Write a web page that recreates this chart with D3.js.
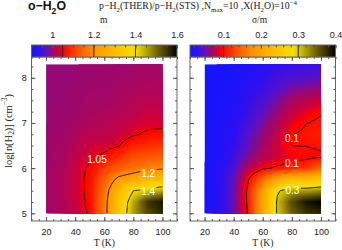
<!DOCTYPE html>
<html><head><meta charset="utf-8">
<script src="https://cdn.jsdelivr.net/npm/d3@7/dist/d3.min.js"></script>
<style>
html,body{margin:0;padding:0;background:#fff;}
svg{display:block;}
</style></head><body>
<svg id="chart" width="342" height="250"></svg>
<script>
// ---------------- data ----------------
const temps = [20, 30, 40, 50, 60, 70, 80, 90, 100];            // T (K)
const logn  = [5.0, 5.25, 5.5, 5.75, 6.0, 6.25, 6.5, 6.75, 7.0, 7.25, 7.5, 7.75, 8.0, 8.25, 8.5]; // log n(H2)

// m = p-H2(THER)/p-H2(STS), one array per temperature, values along logn
const mRatio = [
  [1.002,1.003,1.003,1.003,1.002,1.000,1.000,0.999,0.998,0.998,0.997,0.997,0.996,0.996,0.996], // 20 K
  [1.008,1.010,1.011,1.011,1.009,1.006,1.004,1.002,1.000,0.999,0.998,0.998,0.997,0.997,0.997], // 30 K
  [1.025,1.028,1.030,1.030,1.028,1.022,1.015,1.010,1.005,1.002,1.000,0.999,0.998,0.998,0.998], // 40 K
  [1.056,1.060,1.064,1.064,1.058,1.042,1.030,1.020,1.012,1.008,1.005,1.002,1.000,0.999,0.999], // 50 K
  [1.170,1.170,1.160,1.140,1.100,1.060,1.035,1.020,1.015,1.010,1.005,1.003,1.001,1.000,1.000], // 60 K
  [1.330,1.320,1.290,1.220,1.140,1.090,1.048,1.030,1.020,1.015,1.010,1.006,1.003,1.001,1.000], // 70 K
  [1.460,1.450,1.400,1.250,1.160,1.120,1.080,1.045,1.030,1.020,1.015,1.010,1.005,1.002,1.001], // 80 K
  [1.530,1.550,1.420,1.290,1.180,1.130,1.090,1.058,1.038,1.028,1.020,1.012,1.007,1.004,1.003], // 90 K
  [1.560,1.580,1.450,1.310,1.190,1.140,1.100,1.065,1.035,1.028,1.020,1.013,1.008,1.005,1.004]  // 100 K
];
// sigma/m, one array per temperature, values along logn
const sigmaM = [
  [0.012,0.012,0.012,0.012,0.012,0.011,0.011,0.011,0.011,0.011,0.010,0.010,0.010,0.010,0.010], // 20 K
  [0.025,0.025,0.025,0.024,0.022,0.020,0.018,0.017,0.016,0.015,0.014,0.013,0.012,0.012,0.011], // 30 K
  [0.050,0.050,0.050,0.048,0.042,0.036,0.031,0.027,0.024,0.021,0.019,0.017,0.015,0.014,0.013], // 40 K
  [0.104,0.106,0.107,0.098,0.075,0.058,0.050,0.045,0.040,0.035,0.030,0.026,0.022,0.019,0.017], // 50 K
  [0.200,0.200,0.190,0.150,0.095,0.075,0.068,0.062,0.055,0.048,0.041,0.035,0.029,0.024,0.020], // 60 K
  [0.305,0.305,0.295,0.200,0.104,0.085,0.085,0.080,0.072,0.063,0.055,0.045,0.037,0.030,0.026], // 70 K
  [0.350,0.360,0.320,0.230,0.110,0.092,0.1002,0.0994,0.090,0.080,0.070,0.056,0.042,0.034,0.029], // 80 K
  [0.370,0.390,0.320,0.230,0.120,0.094,0.1005,0.104,0.0995,0.090,0.076,0.060,0.045,0.035,0.030], // 90 K
  [0.380,0.400,0.330,0.240,0.150,0.097,0.103,0.108,0.104,0.098,0.082,0.064,0.048,0.037,0.032]  // 100 K
];
const tExtent = [20, 100];
const lExtent = [5, 8.3];

const mLevels = [1.05, 1.2, 1.4];
const sLevels = [0.1, 0.3];
const mLabels = [{text:"1.05", T:55, L:6.19}, {text:"1.2", T:90.2, L:5.88}, {text:"1.4", T:90.2, L:5.48}];
const sLabels = [{text:"0.1", T:80, L:6.66}, {text:"0.1", T:80, L:6.11}, {text:"0.3", T:80.4, L:5.5}];

const mBarDomain = [0.9, 1.6];
const sBarDomain = [0.01, 0.4];
const mBarTicks = [1, 1.2, 1.4, 1.6];
const sBarTicks = [0.1, 0.2, 0.3, 0.4];
const mBarMinor = d3.range(0.9, 1.601, 0.05);
const sBarMinor = d3.range(0.02, 0.401, 0.02);

const xTicks = [20, 40, 60, 80, 100];
const xMinor = d3.range(10, 111, 5);
const yTicks = [5, 6, 7, 8];
const yMinor = d3.range(5, 8.46, 0.25);

const cmapStops  = [0, 0.05, 0.10, 0.14, 0.20, 0.215, 0.31, 0.43, 0.57, 0.71, 0.76, 0.87, 1.0];
const cmapColors = ["#1414ff","#3010f0","#6010c0","#9a0870","#d80030","#ff0000","#ff4a00","#ff9400","#ffbc00","#f6e000","#cfc000","#6e6000","#000000"];

// ---------------- setup ----------------
const svg = d3.select("#chart");
const defs = svg.append("defs");
const SANS = "'Liberation Sans', Arial, sans-serif";
const SERIF = "'Liberation Serif', 'Times New Roman', serif";
const frameTop = 57, frameBot = 221, barTop = 45;
const cmap = d3.scaleLinear().domain(cmapStops).range(cmapColors).interpolate(d3.interpolateRgb).clamp(true);

// sampling of the field for rendering
const T0 = 18, dT = 0.5, nx = 169, L0 = 4.95, dL = 0.025, ny = 137;
function bilinear(grid, t, l) {
  const nT = temps.length, nL = logn.length;
  let fx = (t - temps[0]) / (temps[1] - temps[0]); fx = Math.max(0, Math.min(nT - 1, fx));
  let fy = (l - logn[0]) / (logn[1] - logn[0]); fy = Math.max(0, Math.min(nL - 1, fy));
  const i = Math.min(Math.floor(fx), nT - 2), j = Math.min(Math.floor(fy), nL - 2);
  const u = fx - i, v = fy - j;
  return (1-u)*(1-v)*grid[i][j] + u*(1-v)*grid[i+1][j] + (1-u)*v*grid[i][j+1] + u*v*grid[i+1][j+1];
}

function rich(sel, parts, fs) {
  sel.selectAll("tspan").remove();
  let cur = 0;
  parts.forEach(([s, t]) => {
    const target = t === "sub" ? fs*0.3 : t === "sup" ? -fs*0.42 : 0;
    const ts = sel.append("tspan").text(s).attr("dy", target - cur);
    ts.attr("font-size", t ? fs*0.7 : fs);
    cur = target;
  });
}
function fitText(sel, parts, fs, width) {
  sel.attr("font-size", fs); rich(sel, parts, fs);
  const w = sel.node().getComputedTextLength();
  if (width && w > 0) { const f = fs * width / w; sel.attr("font-size", f); rich(sel, parts, f); }
}

const panels = [
  {x0:31.5, x1:177, grid:mRatio, bar:mBarDomain, levels:mLevels, labels:mLabels, btick:mBarTicks, bminor:mBarMinor, ylab:true},
  {x0:190, x1:335.5, grid:sigmaM, bar:sBarDomain, levels:sLevels, labels:sLabels, btick:sBarTicks, bminor:sBarMinor, ylab:false}
];

const yS = d3.scaleLinear().domain([4.83, 8.46]).range([frameBot, frameTop]);

function styleAxis(g) {
  g.select(".domain").remove();
  g.selectAll("line").attr("stroke", "#555").attr("stroke-width", 1);
  g.attr("font-family", SANS).attr("font-size", 9);
  g.selectAll("text").attr("fill", "#222");
  return g;
}

panels.forEach((p, k) => {
  const xS = d3.scaleLinear().domain([10, 110]).range([p.x0, p.x1]);
  const cS = d3.scaleLinear().domain(p.bar).range([p.x0, p.x1]);
  const colorOf = v => cmap((v - p.bar[0]) / (p.bar[1] - p.bar[0]));

  // field
  const values = new Float64Array(nx * ny);
  for (let j = 0; j < ny; j++) for (let i = 0; i < nx; i++)
    values[j*nx + i] = bilinear(p.grid, T0 + i*dT, L0 + j*dL);
  const vmin = d3.min(values), vmax = d3.max(values);

  const proj = d3.geoTransform({point(x, y) {
    this.stream.point(xS(T0 + (x - 0.5)*dT), yS(L0 + (y - 0.5)*dL));
  }});
  const path = d3.geoPath(proj);
  const gen = d3.contours().size([nx, ny]);

  const rx = xS(tExtent[0]), rw = xS(tExtent[1]) - rx, ry = yS(lExtent[1]), rh = yS(lExtent[0]) - ry;
  defs.append("clipPath").attr("id", "clip" + k).append("rect")
    .attr("x", rx).attr("y", ry).attr("width", rw).attr("height", rh);

  const fg = svg.append("g").attr("clip-path", `url(#clip${k})`);
  fg.append("rect").attr("x", rx).attr("y", ry).attr("width", rw).attr("height", rh).attr("fill", colorOf(vmin));
  const N = 260, step = (vmax - vmin) / N;
  for (let i = 1; i < N; i++) {
    const t = vmin + i*step;
    fg.append("path").attr("d", path(gen.contour(values, t))).attr("fill", colorOf(t + step/2));
  }

  // contour labels + mask
  const mask = defs.append("mask").attr("id", "mask" + k).attr("maskUnits", "userSpaceOnUse")
    .attr("x", 0).attr("y", 0).attr("width", 342).attr("height", 250);
  mask.append("rect").attr("width", 342).attr("height", 250).attr("fill", "white");

  const lg = svg.append("g").attr("clip-path", `url(#clip${k})`).attr("mask", `url(#mask${k})`);
  p.levels.forEach(lv => {
    lg.append("path").attr("d", path(gen.contour(values, lv)))
      .attr("fill", "none").attr("stroke", "#000").attr("stroke-width", 0.9);
  });
  const tg = svg.append("g");
  p.labels.forEach(lb => {
    const t = tg.append("text").attr("x", xS(lb.T)).attr("y", yS(lb.L))
      .attr("text-anchor", "middle").attr("dominant-baseline", "central")
      .attr("font-family", SANS).attr("font-size", 10).attr("fill", "#fff").text(lb.text);
    const b = t.node().getBBox();
    mask.append("rect").attr("x", b.x - 1).attr("y", b.y + 1).attr("width", b.width + 2).attr("height", b.height - 2).attr("fill", "black");
  });

  // frame
  svg.append("rect").attr("x", p.x0).attr("y", frameTop).attr("width", p.x1 - p.x0).attr("height", frameBot - frameTop)
    .attr("fill", "none").attr("stroke", "#666").attr("stroke-width", 1);

  // axes (inward ticks)
  styleAxis(svg.append("g").attr("transform", `translate(0,${frameBot})`)
    .call(d3.axisBottom(xS).tickValues(xMinor).tickSize(-2).tickFormat("")));
  styleAxis(svg.append("g").attr("transform", `translate(0,${frameBot})`)
    .call(d3.axisBottom(xS).tickValues(xTicks).tickSize(-4).tickPadding(7.5).tickFormat(d3.format("d"))));
  styleAxis(svg.append("g").attr("transform", `translate(0,${frameTop})`)
    .call(d3.axisTop(xS).tickValues(xMinor).tickSize(-2).tickFormat("")));
  styleAxis(svg.append("g").attr("transform", `translate(0,${frameTop})`)
    .call(d3.axisTop(xS).tickValues(xTicks).tickSize(-4).tickFormat("")));
  styleAxis(svg.append("g").attr("transform", `translate(${p.x0},0)`)
    .call(d3.axisLeft(yS).tickValues(yMinor).tickSize(-2).tickFormat("")));
  styleAxis(svg.append("g").attr("transform", `translate(${p.x0},0)`)
    .call(d3.axisLeft(yS).tickValues(yTicks).tickSize(-4).tickPadding(4.7).tickFormat(p.ylab ? d3.format("d") : "")));
  styleAxis(svg.append("g").attr("transform", `translate(${p.x1},0)`)
    .call(d3.axisRight(yS).tickValues(yMinor).tickSize(-2).tickFormat("")));
  styleAxis(svg.append("g").attr("transform", `translate(${p.x1},0)`)
    .call(d3.axisRight(yS).tickValues(yTicks).tickSize(-4).tickFormat("")));

  // colour bar
  const grad = defs.append("linearGradient").attr("id", "grad" + k);
  d3.range(0, 1.0001, 0.01).forEach(f => grad.append("stop").attr("offset", f).attr("stop-color", cmap(f)));
  svg.append("rect").attr("x", p.x0).attr("y", barTop).attr("width", p.x1 - p.x0).attr("height", frameTop - barTop)
    .attr("fill", `url(#grad${k})`).attr("stroke", "#666").attr("stroke-width", 1);
  p.levels.forEach(lv => {
    svg.append("line").attr("x1", cS(lv)).attr("x2", cS(lv)).attr("y1", barTop).attr("y2", frameTop)
      .attr("stroke", "#222").attr("stroke-width", 1);
  });
  styleAxis(svg.append("g").attr("transform", `translate(0,${barTop})`)
    .call(d3.axisTop(cS).tickValues(p.bminor).tickSize(-2.5).tickFormat("")));
  styleAxis(svg.append("g").attr("transform", `translate(0,${barTop})`)
    .call(d3.axisTop(cS).tickValues(p.btick).tickSize(-3.5).tickPadding(6.7).tickFormat(d => String(d))));

  // x-axis title
  svg.append("text").attr("x", (p.x0 + p.x1)/2).attr("y", 246).attr("text-anchor", "middle")
    .attr("font-family", SERIF).attr("font-size", 9.5).attr("fill", "#222").text("T (K)");
});

// titles
fitText(svg.append("text").attr("x", 28).attr("y", 10).attr("font-family", SANS).attr("font-weight", "bold").attr("fill", "#111"),
  [["o\u2212H", null], ["2", "sub"], ["O", null]], 11, 38);
fitText(svg.append("text").attr("x", 99).attr("y", 9).attr("font-family", SERIF).attr("fill", "#222"),
  [["p\u2212H", null], ["2", "sub"], ["(THER)/p\u2212H", null], ["2", "sub"], ["(STS) ,N", null], ["max", "sub"],
   ["=10 ,X(H", null], ["2", "sub"], ["O)=10", null], ["\u22124", "sup"]], 8, 198);
svg.append("text").attr("x", 100).attr("y", 23).attr("font-family", SERIF).attr("font-size", 9.5).attr("fill", "#222").text("m");
svg.append("text").attr("x", 252).attr("y", 23).attr("font-family", SERIF).attr("font-size", 9.5).attr("fill", "#222").text("\u03c3/m");

// y-axis title
const yt = svg.append("text").attr("transform", "translate(8,131) rotate(-90)").attr("text-anchor", "middle")
  .attr("dominant-baseline", "central").attr("font-family", SERIF).attr("fill", "#222");
fitText(yt, [["log[n(H", null], ["2", "sub"], [")] (cm", null], ["\u22123", "sup"], [")", null]], 9, 74);
</script>
</body></html>
